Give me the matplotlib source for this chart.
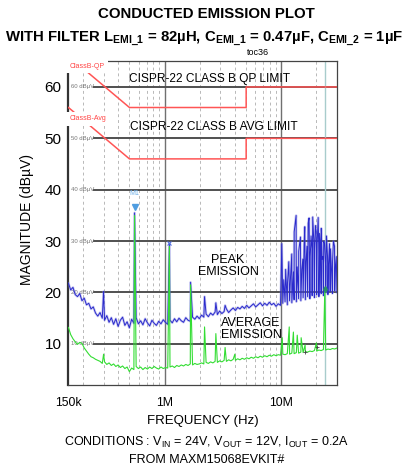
import numpy as np
import matplotlib
matplotlib.use('Agg')
import matplotlib.pyplot as plt

plt.rcParams['font.family'] = ['Liberation Sans', 'DejaVu Sans']

# ---- data (frequency in MHz, level in dBuV) ----
n_pts = 120
freq = np.geomspace(0.15, 30, n_pts)

peak_base = [21.8, 20.5, 21.0, 19.6, 19.2, 19.8, 18.4, 18.9, 17.6, 17.9, 16.8, 17.2, 16.0, 15.4,
             16.1, 15.0, 14.6, 15.5, 14.2, 15.1, 13.8, 14.9, 13.4, 14.6, 15.2, 13.6, 14.3, 13.1, 14.8, 14.0,
             15.1, 13.9, 14.5, 13.7, 14.9, 14.1, 13.5, 14.6, 14.0, 13.6, 14.4, 13.9, 14.7, 14.2, 13.8,
             14.6, 14.1, 14.9, 14.3, 15.0, 14.5, 14.2, 15.1, 14.6, 14.4, 15.2, 14.8, 15.4, 14.9, 15.6, 15.2,
             15.8, 15.3, 16.0, 15.6, 16.2, 15.7, 16.4, 15.9, 16.3, 16.8, 16.1, 16.6, 17.0, 16.5, 17.1, 16.8, 17.3, 16.9,
             17.5, 17.0, 17.4, 17.8, 17.2, 17.6, 18.0, 17.4, 17.9, 17.5, 18.1, 17.6, 17.9, 17.3, 17.8, 17.5,
             17.9, 18.2, 17.6, 18.4, 18.0, 18.6, 18.2, 18.8, 18.4, 19.0, 18.6, 19.2, 18.8, 19.4, 19.0, 19.6,
             19.2, 19.8, 19.4, 20.0, 19.6, 20.2, 19.8, 20.3, 20.0]

avg_base = [13.2, 11.8, 11.0, 10.4, 9.9, 10.3, 10.1, 9.2, 8.6, 8.0, 7.5, 7.3, 7.0, 6.8,
            6.6, 6.2, 6.5, 6.0, 6.3, 5.8, 6.1, 5.6, 5.9, 5.4, 5.7, 5.2, 5.5, 4.6, 5.3, 5.0,
            5.6, 5.2, 5.5, 5.0, 5.4, 5.1, 5.5, 5.2, 5.6, 5.3, 5.1, 5.5, 5.2, 5.4, 5.3,
            5.5, 5.7, 5.4, 5.8, 5.6, 5.9, 5.7, 6.0, 5.8, 6.1, 5.9, 6.2, 6.0, 6.1, 6.3, 6.1,
            6.4, 6.2, 6.5, 6.3, 6.6, 6.4, 6.7, 6.5, 6.8, 6.6, 6.9, 6.7, 7.0, 6.8, 7.1, 6.9, 7.2, 7.0,
            7.3, 7.1, 7.4, 7.2, 7.5, 7.3, 7.6, 7.4, 7.7, 7.5, 7.8, 7.6, 7.9, 7.7, 7.9, 7.8,
            8.0, 7.9, 8.1, 8.0, 8.2, 8.1, 8.3, 8.2, 8.4, 8.3, 8.5, 8.4, 8.6, 8.5, 8.7, 8.6,
            8.8, 8.7, 8.9, 8.8, 9.0, 8.9, 9.1, 9.0, 9.2]

peak_spike_f = [0.30, 0.553, 1.1, 1.67, 2.2, 2.75, 3.3,
                10.1, 10.5, 10.9, 11.3, 11.6, 12.0, 12.3, 12.7, 12.9, 13.4, 13.7, 14.1, 14.6,
                15.0, 15.3, 15.7, 15.9, 16.3, 16.6, 17.0, 17.3, 17.7, 18.0, 18.3, 18.6, 19.0,
                19.3, 19.6, 19.9, 20.3, 20.7, 21.0, 21.3, 21.7, 22.0, 22.4, 22.7, 23.1, 23.5,
                24.0, 24.4, 24.9, 25.4, 25.9, 26.4, 27.0, 27.5, 28.0, 28.6, 29.1, 29.6]
peak_spike_h = [20.2, 35.5, 29.5, 22.0, 19.2, 18.0, 17.5,
                29.5, 22.5, 24.5, 21.8, 26.0, 23.0, 27.5, 24.0, 31.8, 35.0, 25.0, 28.0, 30.8,
                24.5, 26.5, 29.5, 32.8, 26.0, 29.0, 33.5, 34.5, 27.0, 31.0, 28.5, 34.7, 30.0,
                28.5, 33.0, 32.0, 29.5, 34.6, 27.5, 31.5, 29.0, 32.5, 26.5, 27.0, 30.0, 29.5,
                25.0, 31.0, 27.0, 25.5, 29.5, 28.5, 24.0, 26.0, 30.0, 29.0, 25.0, 27.0]

avg_spike_f = [0.30, 0.553, 1.1, 1.67, 2.2, 2.75, 3.3, 4.0,
               10.2, 11.7, 12.7, 13.7, 14.8, 16.0, 20.0, 23.6]
avg_spike_h = [8.0, 35.0, 29.0, 21.5, 13.3, 12.0, 9.3, 8.0,
               11.2, 13.3, 12.3, 11.7, 11.2, 9.8, 10.2, 20.5]

qp_f = [0.15, 0.5, 0.5, 5, 5, 30]
qp_db = [66, 56, 56, 56, 60, 60]
avg_f = [0.15, 0.5, 0.5, 5, 5, 30]
avg_db = [56, 46, 46, 46, 50, 50]

grid_db = [10, 20, 30, 40, 50, 60]
minor_f = [0.2, 0.3, 0.4, 0.5, 0.6, 0.7, 0.8, 0.9,
           2, 3, 4, 5, 6, 7, 8, 9, 20]


def merge_trace(f_base, v_base, f_sp, v_sp):
    # put the narrow spikes into the sampled trace, sorted by frequency
    f_all = np.concatenate([f_base, f_sp])
    v_all = np.concatenate([v_base, v_sp])
    order = np.argsort(f_all)
    return f_all[order], v_all[order]


pk_f, pk_v = merge_trace(freq, peak_base, peak_spike_f, peak_spike_h)
av_f, av_v = merge_trace(freq, avg_base, avg_spike_f, avg_spike_h)

# ---- figure ----
fig = plt.figure(figsize=(4.05, 4.71), dpi=100)
ax = fig.add_axes([0.169, 0.1826, 0.663, 0.688])
ax.set_xscale('log')
ax.set_xlim(0.15, 30)
ax.set_ylim(2, 65.06)

# grid
for f in minor_f:
    ax.axvline(f, color='#b8b8b8', lw=0.7, ls=(0, (3, 3)), zorder=1)
for f in [1, 10]:
    ax.axvline(f, color='#707070', lw=1.0, zorder=1)
ax.hlines(grid_db, 0.245, 30, color='#505050', lw=1.4, zorder=2)
for g in grid_db:
    ax.text(0.158, g, '%d dBµV' % g, fontsize=4.3, color='#777777', va='center', ha='left', zorder=3)

ax.axvline(23.6, color='#a8cccc', lw=1.0, zorder=2)

# peak trace
ax.plot(pk_f, pk_v, color='#8080e0', lw=1.8, alpha=0.4, zorder=3)
ax.plot(pk_f, pk_v, color='#2a2acc', lw=0.7, zorder=4)

# average trace
ax.plot(av_f, av_v, color='#33dd33', lw=0.8, zorder=4)

# limit lines
ax.plot(qp_f, qp_db, color='#ff5555', lw=1.1, zorder=5)
ax.plot(avg_f, avg_db, color='#ff5555', lw=1.1, zorder=5)
lbl_box = dict(facecolor='white', edgecolor='none', pad=2.5)
ax.text(0.153, 64.0, 'ClassB-QP', fontsize=5, color='#ff4444', va='center', bbox=lbl_box, zorder=6)
ax.text(0.153, 53.8, 'ClassB-Avg', fontsize=5, color='#ff4444', va='center', bbox=lbl_box, zorder=6)

# markers
ax.plot([0.553], [36.6], marker='v', color='#4f9de0', ms=4, zorder=7)
ax.text(0.553, 39.2, 'M1', fontsize=5, color='#6fb0e8', ha='center', va='center', zorder=7)
ax.plot([1.1], [29.6], marker='x', color='#4f6fe0', ms=3, mew=0.8, zorder=7)
ax.plot([23.6], [20.6], marker='d', color='#2a8a6a', ms=3, zorder=7)
ax.plot([16.0, 20.3], [8.4, 9.3], marker='+', color='#444444', ms=3, mew=0.6, ls='none', zorder=7)

# annotations
ax.text(2.42, 61.6, 'CISPR-22 CLASS B QP LIMIT', fontsize=8.6, ha='center', va='center', zorder=6)
ax.text(2.62, 52.3, 'CISPR-22 CLASS B AVG LIMIT', fontsize=8.6, ha='center', va='center', zorder=6)
ax.text(3.5, 25.2, 'PEAK\nEMISSION', fontsize=9, ha='center', va='center', linespacing=0.95, zorder=6)
ax.text(5.5, 12.9, 'AVERAGE\nEMISSION', fontsize=9, ha='center', va='center', linespacing=0.95, zorder=6)

# axes styling
for side in ['top', 'right', 'bottom']:
    ax.spines[side].set_color('#444444')
    ax.spines[side].set_linewidth(0.9)
ax.spines['left'].set_color('#333333')
ax.spines['left'].set_linewidth(1.6)
ax.set_yticks(grid_db)
ax.set_yticklabels([str(g) for g in grid_db], fontsize=11)
ax.set_xticks([0.15, 1, 10])
ax.set_xticklabels(['150k', '1M', '10M'], fontsize=8.8)
ax.minorticks_off()
ax.tick_params(axis='both', length=0)
ax.tick_params(axis='y', pad=5)
ax.tick_params(axis='x', pad=9)
ax.set_xlabel('FREQUENCY (Hz)', fontsize=9.5, labelpad=4)

fig.text(0.066, 0.535, 'MAGNITUDE (dBµV)', rotation=90, fontsize=10, ha='center', va='center')

# titles
fig.text(0.51, 0.970, 'CONDUCTED EMISSION PLOT', fontsize=10.8, fontweight='bold', ha='center', va='center')
fig.text(0.503, 0.918,
         r'WITH FILTER L$_{\mathregular{EMI\_1}}$ = 82µH, C$_{\mathregular{EMI\_1}}$ = 0.47µF, '
         r'C$_{\mathregular{EMI\_2}}$ = 1µF',
         fontsize=10.7, fontweight='bold', ha='center', va='center')
fig.text(0.638, 0.888, 'toc36', fontsize=6.5, ha='center', va='center')

fig.text(0.51, 0.060,
         r'CONDITIONS : V$_{\mathregular{IN}}$ = 24V, V$_{\mathregular{OUT}}$ = 12V, I$_{\mathregular{OUT}}$ = 0.2A',
         fontsize=9, ha='center', va='center')
fig.text(0.51, 0.024, 'FROM MAXM15068EVKIT#', fontsize=9, ha='center', va='center')

fig.savefig('out.png', dpi=100)
